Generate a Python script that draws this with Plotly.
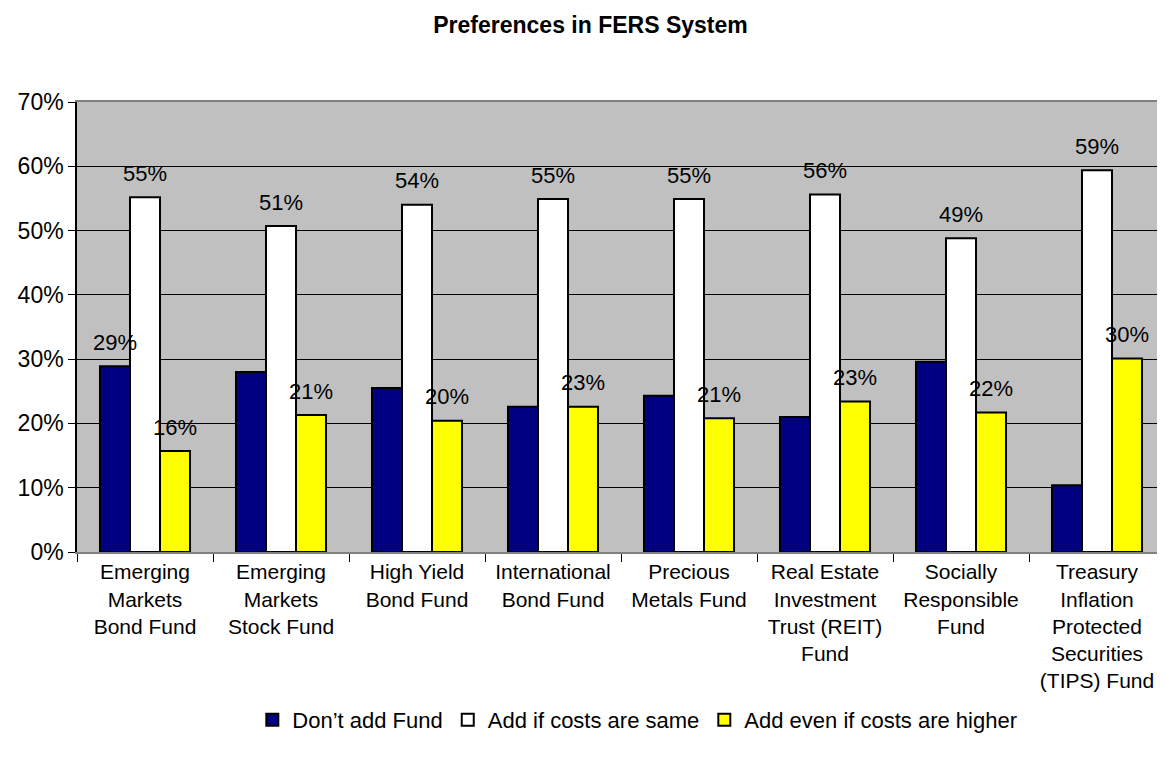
import plotly.graph_objects as go

funds = [
    "Emerging<br>Markets<br>Bond Fund",
    "Emerging<br>Markets<br>Stock Fund",
    "High Yield<br>Bond Fund",
    "International<br>Bond Fund",
    "Precious<br>Metals Fund",
    "Real Estate<br>Investment<br>Trust (REIT)<br>Fund",
    "Socially<br>Responsible<br>Fund",
    "Treasury<br>Inflation<br>Protected<br>Securities<br>(TIPS) Fund",
]

dont_add = [0.289, 0.280, 0.255, 0.226, 0.243, 0.210, 0.296, 0.104]
add_same = [0.552, 0.507, 0.540, 0.549, 0.549, 0.556, 0.488, 0.594]
add_higher = [0.157, 0.213, 0.204, 0.226, 0.208, 0.234, 0.217, 0.301]

# which bars carry a data label in the original
show_dont = [True, False, False, False, False, False, False, False]
show_same = [True] * 8
show_higher = [True] * 8

series = [
    ("Don’t add Fund", dont_add, "#000080", show_dont),
    ("Add if costs are same", add_same, "#FFFFFF", show_same),
    ("Add even if costs are higher", add_higher, "#FFFF00", show_higher),
]

W, H = 1165, 761
# the page body adds an 8px offset, so margins are trimmed by 8
margin = dict(l=69, r=8, t=94, b=217)
bargap = 0.338
plot_w = W - margin["l"] - margin["r"]
barw = plot_w / len(funds) * (1 - bargap) / 3

FONT = "Liberation Sans, Arial, sans-serif"

fig = go.Figure()
for name, vals, color, _ in series:
    fig.add_trace(go.Bar(
        x=funds, y=vals, name=name,
        marker=dict(color=color, line=dict(color="black", width=2)),
        hoverinfo="y",
    ))

annotations = []
for s, (name, vals, color, show) in enumerate(series):
    for f, v, sh in zip(funds, vals, show):
        if not sh:
            continue
        annotations.append(dict(
            x=f, y=v, xref="x", yref="y",
            text=f"{round(v * 100):.0f}%",
            showarrow=False,
            xshift=(s - 1) * barw, yshift=24, yanchor="middle",
            font=dict(family=FONT, size=22, color="black"),
        ))

fig.update_layout(
    width=W, height=H,
    margin=margin,
    barmode="group", bargap=bargap, bargroupgap=0,
    paper_bgcolor="white", plot_bgcolor="#C0C0C0",
    font=dict(family=FONT, size=21, color="black"),
    title=dict(text="<b>Preferences in FERS System</b>",
               x=0.5, xanchor="center", y=0.978, yanchor="middle",
               font=dict(family=FONT, size=23, color="black")),
    legend=dict(orientation="h", x=0.515, xanchor="center",
                y=-0.373, yanchor="middle",
                font=dict(family=FONT, size=22, color="black"),
                itemwidth=30, tracegroupgap=0),
    annotations=annotations,
    showlegend=True,
)

fig.update_yaxes(
    range=[0, 0.7], dtick=0.1, tickformat=".0%",
    showgrid=True, gridcolor="black", gridwidth=1,
    showline=True, linecolor="black", linewidth=1.5,
    ticks="outside", ticklen=7, tickcolor="black",
    zeroline=False, tickfont=dict(size=23),
)
fig.update_xaxes(
    showline=True, linecolor="#808080", linewidth=2, mirror=True,
    ticks="outside", tickson="boundaries", ticklen=8, tickcolor="black",
    tickfont=dict(size=21), tickangle=0,
)

fig.write_html("out.html")
